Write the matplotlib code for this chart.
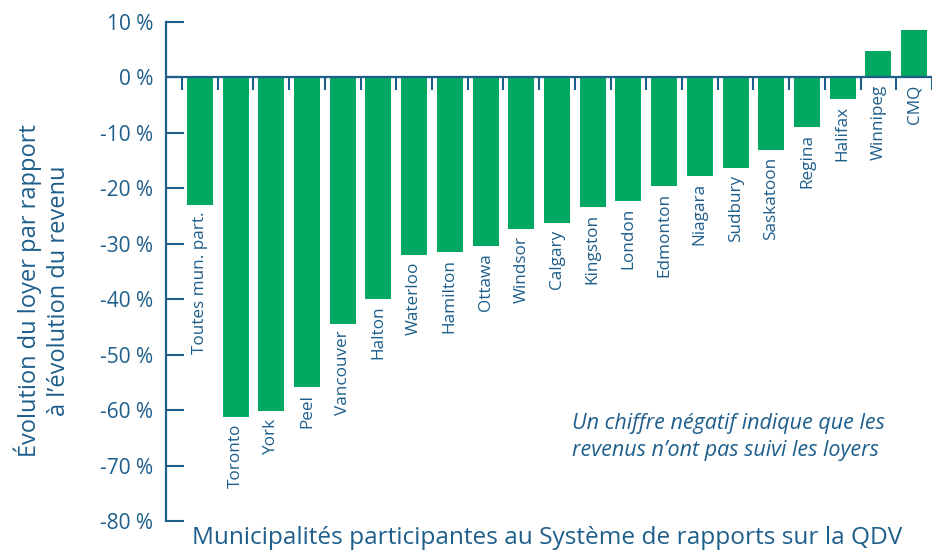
import numpy as np
import matplotlib
matplotlib.use("Agg")
import matplotlib.pyplot as plt

# donnees
municipalites = ["Toutes mun. part.", "Toronto", "York", "Peel", "Vancouver", "Halton",
                 "Waterloo", "Hamilton", "Ottawa", "Windsor", "Calgary", "Kingston",
                 "London", "Edmonton", "Niagara", "Sudbury", "Saskatoon", "Regina",
                 "Halifax", "Winnipeg", "CMQ"]
evolution = [-23.0, -61.2, -60.1, -55.8, -44.4, -39.9, -32.0, -31.5, -30.4, -27.3,
             -26.3, -23.4, -22.3, -19.6, -17.8, -16.3, -13.1, -9.0, -3.8, 4.7, 8.6]
yticks = np.arange(-80, 11, 10)

vert = "#00a862"
bleu = "#1d5e8b"
plt.rcParams["font.family"] = ["Open Sans", "DejaVu Sans"]

fig = plt.figure(figsize=(9.43, 5.53), dpi=100)
ax = fig.add_axes([166/943, 1-521/553, 766/943, 499/553])

x = np.arange(len(municipalites))
ax.bar(x, evolution, width=0.73, color=vert, zorder=2)

# ligne du zero et petites graduations entre les barres
ax.axhline(0, color=bleu, lw=1.6, zorder=3)
ax.vlines(np.arange(len(municipalites)+1) - 0.5, -2.2, 0, color=bleu, lw=1.5, zorder=3)

# etiquettes des municipalites
for xi, v, nom in zip(x, evolution, municipalites):
    y0 = min(v, 0)
    ax.annotate(nom, (xi, y0), xytext=(0, -5), textcoords="offset points",
                rotation=90, ha="center", va="top", fontsize=12.3, color=bleu)

ax.set_xlim(-0.948, len(municipalites) - 0.5)
ax.set_ylim(-80, 10)
ax.set_xticks([])
ax.set_yticks(yticks)
ax.set_yticklabels([f"{t} %" for t in yticks])
ax.tick_params(axis="y", direction="in", length=13, width=1.5, color=bleu,
               labelcolor=bleu, labelsize=15, pad=9)
for s in ["top", "right", "bottom"]:
    ax.spines[s].set_visible(False)
ax.spines["left"].set_color(bleu)
ax.spines["left"].set_linewidth(1.6)

fig.text(42/943, 1-291/553, "Évolution du loyer par rapport\nà l’évolution du revenu",
         rotation=90, ha="center", va="center", fontsize=17, color=bleu, linespacing=1.3)
fig.text(192/943, 1-538/553, "Municipalités participantes au Système de rapports sur la QDV",
         ha="left", va="center", fontsize=17.6, color=bleu)
fig.text(572/943, 1-437/553, "Un chiffre négatif indique que les\nrevenus n’ont pas suivi les loyers",
         ha="left", va="center", fontsize=15.5, style="italic", color=bleu, linespacing=1.4)

fig.savefig("out.png", dpi=100)
